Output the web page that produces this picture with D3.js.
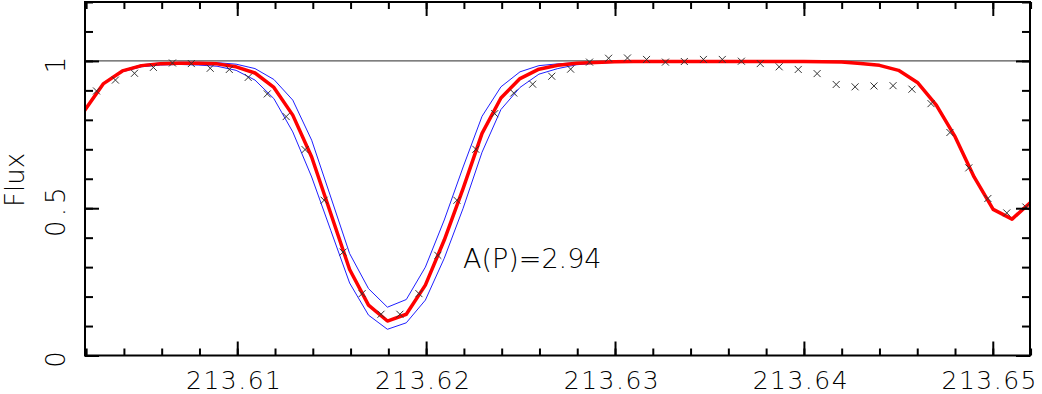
<!DOCTYPE html>
<html lang="en">
<head>
<meta charset="UTF-8">
<title>Flux</title>
<script src="https://d3js.org/d3.v7.min.js"></script>
<style>
    body { margin: 0; padding: 0; background: #fff; }
    svg { display: block; }
    text { font-family: "DejaVu Sans", Arial, sans-serif; font-weight: 200; fill: #000; }
</style>
</head>
<body>
<div id="chart"></div>
<script>
// observed points (crosses)
const xData = [213.60255, 213.60355, 213.60456, 213.60556, 213.60657, 213.60757, 213.60857, 213.60958, 213.61058, 213.61159,
               213.61259, 213.61359, 213.61460, 213.61560, 213.61661, 213.61761, 213.61861, 213.61962, 213.62062, 213.62163,
               213.62263, 213.62363, 213.62464, 213.62564, 213.62665, 213.62765, 213.62865, 213.62966, 213.63066, 213.63167,
               213.63267, 213.63367, 213.63468, 213.63568, 213.63669, 213.63769, 213.63869, 213.63970, 213.64070, 213.64171,
               213.64271, 213.64371, 213.64472, 213.64572, 213.64673, 213.64773, 213.64873, 213.64974, 213.65074, 213.65175];
const yData = [0.898, 0.935, 0.958, 0.978, 0.993, 0.991, 0.975, 0.971, 0.944, 0.888,
               0.811, 0.699, 0.527, 0.351, 0.210, 0.140, 0.140, 0.210, 0.340, 0.527,
               0.700, 0.821, 0.891, 0.921, 0.948, 0.972, 0.996, 1.009, 1.010, 1.005,
               0.996, 0.998, 1.005, 1.005, 0.999, 0.991, 0.980, 0.971, 0.957, 0.920,
               0.912, 0.915, 0.916, 0.904, 0.855, 0.757, 0.637, 0.533, 0.484, 0.504];

// synthetic spectrum (red)
const xModel = [213.60192, 213.60292, 213.60392, 213.60493, 213.60593, 213.60693, 213.60793, 213.60893, 213.60994, 213.61094,
                213.61194, 213.61294, 213.61394, 213.61495, 213.61595, 213.61695, 213.61795, 213.61895, 213.61996, 213.62096,
                213.62196, 213.62296, 213.62396, 213.62497, 213.62597, 213.62697, 213.62797, 213.62897, 213.62998, 213.63098,
                213.63198, 213.63298, 213.63398, 213.63499, 213.63599, 213.63699, 213.63799, 213.63899, 213.64000, 213.64100,
                213.64200, 213.64300, 213.64400, 213.64501, 213.64601, 213.64701, 213.64801, 213.64901, 213.65002, 213.65102,
                213.65202];
const yModel = [0.832, 0.923, 0.966, 0.984, 0.990, 0.992, 0.992, 0.990, 0.980, 0.959,
                0.910, 0.816, 0.674, 0.482, 0.292, 0.171, 0.117, 0.140, 0.239, 0.392,
                0.567, 0.754, 0.874, 0.940, 0.972, 0.985, 0.992, 0.995, 0.997, 0.998,
                0.998, 0.998, 0.998, 0.998, 0.998, 0.998, 0.998, 0.998, 0.998, 0.997,
                0.996, 0.991, 0.985, 0.968, 0.927, 0.850, 0.742, 0.606, 0.496, 0.463,
                0.521];

// abundance +/- band (blue), on model points 1..31
const bandHi = [0.924, 0.968, 0.987, 0.993, 0.995, 0.995, 0.994, 0.989, 0.974, 0.937,
                0.867, 0.731, 0.538, 0.346, 0.227, 0.164, 0.190, 0.300, 0.460, 0.640,
                0.812, 0.912, 0.963, 0.984, 0.990, 0.994, 0.996, 0.998, 0.999, 0.999, 0.999];
const bandLo = [0.922, 0.963, 0.980, 0.986, 0.988, 0.986, 0.982, 0.968, 0.935, 0.872,
                0.759, 0.606, 0.425, 0.246, 0.137, 0.089, 0.111, 0.188, 0.330, 0.500,
                0.690, 0.835, 0.910, 0.955, 0.974, 0.987, 0.992, 0.995, 0.997, 0.998, 0.998];
const xBand = xModel.slice(1, 1 + bandHi.length);

const xTicks = [213.61, 213.62, 213.63, 213.64, 213.65];
const yTicks = [0, 0.5, 1];
const label = 'A(P)=2.94';

const W = 1042, H = 394;
const mLeft = 85, mRight = 1030, mTop = 2, mBottom = 355.5;

const svg = d3.select('#chart').append('svg')
    .attr('width', W).attr('height', H);

svg.append('rect').attr('width', W).attr('height', H).attr('fill', '#fff');

const x = d3.scaleLinear().domain([213.60194, 213.65197]).range([mLeft, mRight]);
const y = d3.scaleLinear().domain([0, 1.2]).range([mBottom, mTop]);

svg.append('clipPath').attr('id', 'plot')
    .append('rect').attr('x', mLeft).attr('y', mTop)
    .attr('width', mRight - mLeft).attr('height', mBottom - mTop);

const g = svg.append('g').attr('clip-path', 'url(#plot)');

// continuum
g.append('line')
    .attr('x1', mLeft).attr('x2', mRight)
    .attr('y1', y(1)).attr('y2', y(1))
    .attr('stroke', '#555').attr('stroke-width', 1.2);

const line = d3.line().x(d => x(d[0])).y(d => y(d[1]));

[bandHi, bandLo].forEach(b => {
    g.append('path')
        .datum(xBand.map((v, i) => [v, b[i]]))
        .attr('d', line)
        .attr('fill', 'none')
        .attr('stroke', '#1f1fff')
        .attr('stroke-width', 1);
});

g.append('path')
    .datum(xModel.map((v, i) => [v, yModel[i]]))
    .attr('d', line)
    .attr('fill', 'none')
    .attr('stroke', '#ff0000')
    .attr('stroke-width', 3.5)
    .attr('stroke-linejoin', 'round');

g.selectAll('path.pt')
    .data(xData.map((v, i) => [v, yData[i]]))
    .enter().append('path')
    .attr('class', 'pt')
    .attr('transform', d => `translate(${x(d[0])},${y(d[1])})`)
    .attr('d', 'M-3.5,-3.5L3.5,3.5M-3.5,3.5L3.5,-3.5')
    .attr('stroke', '#333')
    .attr('stroke-width', 1);

// ticks, all pointing inward
function ticks(axis, scale, vals, size, tr) {
    svg.append('g').attr('transform', tr)
        .call(axis(scale).tickValues(vals).tickSize(size).tickFormat(''))
        .call(s => s.select('.domain').remove())
        .selectAll('line').attr('stroke', '#000').attr('stroke-width', 2);
}
const xMinor = d3.range(213.602, 213.6521, 0.002);
const yMinor = d3.range(0, 1.21, 0.1);
ticks(d3.axisBottom, x, xMinor, -7, `translate(0,${mBottom})`);
ticks(d3.axisBottom, x, xTicks, -14, `translate(0,${mBottom})`);
ticks(d3.axisTop, x, xMinor, -7, `translate(0,${mTop})`);
ticks(d3.axisTop, x, xTicks, -14, `translate(0,${mTop})`);
ticks(d3.axisLeft, y, yMinor, -8, `translate(${mLeft},0)`);
ticks(d3.axisLeft, y, yTicks, -14, `translate(${mLeft},0)`);
ticks(d3.axisRight, y, yMinor, -8, `translate(${mRight},0)`);
ticks(d3.axisRight, y, yTicks, -14, `translate(${mRight},0)`);

// frame
svg.append('rect')
    .attr('x', mLeft).attr('y', mTop)
    .attr('width', mRight - mLeft).attr('height', mBottom - mTop)
    .attr('fill', 'none').attr('stroke', '#000').attr('stroke-width', 2);

// tick labels
svg.selectAll('text.xl').data(xTicks).enter().append('text')
    .attr('class', 'xl')
    .attr('x', d => x(d) - 3).attr('y', 389)
    .attr('text-anchor', 'middle')
    .attr('font-size', 25)
    .attr('letter-spacing', 1.5)
    .text(d => d3.format('.2f')(d));

svg.selectAll('text.yl').data(yTicks).enter().append('text')
    .attr('class', 'yl')
    .attr('transform', d => `translate(65,${y(d) + 2}) rotate(-90)`)
    .attr('text-anchor', 'middle')
    .attr('font-size', 26)
    .attr('letter-spacing', 4)
    .text(d => d);

svg.append('text')
    .attr('transform', 'translate(24,180) rotate(-90)')
    .attr('text-anchor', 'middle')
    .attr('font-size', 26)
    .text('Flux');

svg.append('text')
    .attr('x', x(213.62195)).attr('y', y(0.297))
    .attr('font-size', 27)
    .text(label);
</script>
</body>
</html>
